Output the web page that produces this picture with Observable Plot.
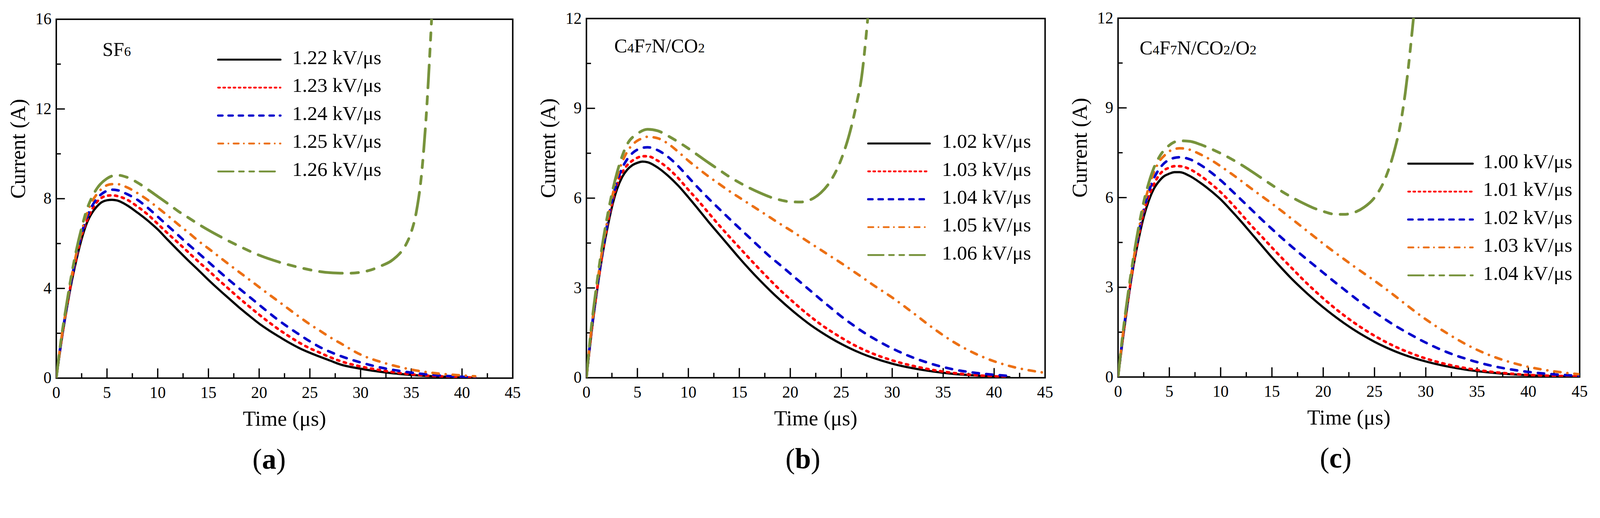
<!DOCTYPE html>
<html><head><meta charset="utf-8">
<script src="https://cdn.jsdelivr.net/npm/d3@7"></script>
<script src="https://cdn.jsdelivr.net/npm/@observablehq/plot@0.6"></script>
<style>
html,body{margin:0;padding:0;background:#fff;overflow:hidden;}
#wrap{position:relative;overflow:hidden;width:4364px;height:1325px;}
#row{display:flex;width:4364px;height:1325px;transform-origin:0 0;}
#row svg{overflow:visible;display:block;flex:none;}
</style></head><body><div id="wrap"><div id="row"></div></div>
<script>
// ---------- data ----------
const xTicks = [0,5,10,15,20,25,30,35,40,45];
const xMinor = [2.5,7.5,12.5,17.5,22.5,27.5,32.5,37.5,42.5];
const yTicksA = [0,4,8,12,16];
const yMinorA = [2,6,10,14];
const yTicksBC = [0,3,6,9,12];
const yMinorBC = [1.5,4.5,7.5,10.5];

const seriesColors = ["#000000","#ff0000","#0000cc","#ec7014","#77933c"];

// (a) SF6
const labelsA = ["1.22 kV/μs","1.23 kV/μs","1.24 kV/μs","1.25 kV/μs","1.26 kV/μs"];
const tA = [0,0.5,1,1.5,2,2.5,3,3.5,4,4.5,5,5.5,6,7,8,9,10,11,12,13,14,15,16,17,18,19,20,21,22,23,24,25,26,27,28,30,32,34,36,38,40,41.3];
const sf6_122 = [0,1.6,3.0,4.25,5.3,6.2,6.9,7.35,7.65,7.85,7.93,7.95,7.92,7.7,7.38,7.03,6.63,6.16,5.7,5.25,4.82,4.38,3.96,3.56,3.16,2.79,2.43,2.12,1.84,1.57,1.33,1.13,0.95,0.78,0.61,0.42,0.28,0.18,0.11,0.07,0.04,0.02];
const sf6_123 = [0,1.65,3.05,4.35,5.4,6.35,7.0,7.5,7.85,8.05,8.13,8.15,8.12,7.95,7.65,7.3,6.88,6.45,6.04,5.62,5.2,4.8,4.38,3.98,3.58,3.2,2.83,2.48,2.15,1.85,1.57,1.33,1.13,0.93,0.76,0.52,0.35,0.22,0.13,0.08,0.04,0.02];
const sf6_124 = [0,1.7,3.1,4.4,5.5,6.45,7.15,7.65,8.0,8.22,8.35,8.4,8.38,8.2,7.95,7.6,7.2,6.79,6.38,5.97,5.58,5.18,4.78,4.39,4.01,3.64,3.27,2.9,2.55,2.23,1.93,1.64,1.38,1.17,0.99,0.7,0.47,0.31,0.19,0.11,0.06,0.03];
const sf6_125 = [0,1.75,3.15,4.5,5.6,6.55,7.3,7.85,8.2,8.45,8.6,8.65,8.65,8.5,8.25,7.95,7.6,7.24,6.86,6.5,6.12,5.78,5.43,5.08,4.74,4.4,4.06,3.72,3.39,3.05,2.72,2.4,2.11,1.82,1.56,1.05,0.72,0.48,0.3,0.19,0.12,0.08];
const tA_g = [0,0.5,1,1.5,2,2.5,3,3.5,4,5,6,7,8,9,10,11,12,13,14,16,18,20,22,24,26,27,28,29,30,31,32,33,33.5,34,34.5,35,35.5,36,36.5,37];
const sf6_126 = [0,1.8,3.25,4.6,5.75,6.7,7.5,8.05,8.45,8.9,9.05,8.95,8.72,8.42,8.1,7.78,7.45,7.16,6.87,6.35,5.89,5.48,5.17,4.93,4.75,4.7,4.68,4.68,4.72,4.82,5.0,5.22,5.4,5.63,5.98,6.52,7.42,9.05,11.9,16];

// (b) C4F7N/CO2
const labelsB = ["1.02 kV/μs","1.03 kV/μs","1.04 kV/μs","1.05 kV/μs","1.06 kV/μs"];
const tB = [0,0.5,1,1.5,2,2.5,3,3.5,4,4.5,5,5.5,6,7,8,9,10,11,12,13,14,15,16,17,18,19,20,21,22,23,24,25,26,27,28,30,32,34,36,38,40,41.5];
const c4_102 = [0,1.5,2.8,3.95,4.9,5.7,6.3,6.7,6.95,7.1,7.18,7.22,7.2,7.02,6.75,6.42,6.03,5.62,5.2,4.8,4.4,4.0,3.62,3.26,2.92,2.6,2.3,2.02,1.76,1.53,1.32,1.13,0.96,0.81,0.68,0.47,0.32,0.21,0.13,0.08,0.04,0.02];
const c4_103 = [0,1.55,2.85,4.0,5.0,5.8,6.45,6.85,7.1,7.25,7.35,7.4,7.4,7.25,7.0,6.67,6.28,5.9,5.5,5.1,4.72,4.35,3.98,3.62,3.27,2.93,2.62,2.32,2.04,1.78,1.55,1.34,1.14,0.97,0.82,0.58,0.4,0.26,0.16,0.09,0.05,0.02];
const c4_104 = [0,1.6,2.9,4.05,5.05,5.9,6.55,7.0,7.3,7.5,7.62,7.68,7.7,7.6,7.38,7.07,6.7,6.33,5.98,5.65,5.32,5.0,4.68,4.36,4.05,3.77,3.48,3.19,2.9,2.61,2.33,2.05,1.8,1.56,1.35,0.98,0.68,0.45,0.28,0.17,0.1,0.06];
const tB_o = [0,0.5,1,1.5,2,2.5,3,3.5,4,4.5,5,5.5,6,7,8,9,10,11,12,13,14,15,16,17,18,19,20,21,22,23,24,25,26,27,28,30,32,34,36,38,40,42,44.7];
const c4_105 = [0,1.65,3.0,4.15,5.15,6.0,6.7,7.2,7.55,7.78,7.92,8.0,8.05,8.0,7.82,7.55,7.25,6.98,6.72,6.48,6.24,6.02,5.8,5.58,5.36,5.14,4.93,4.71,4.49,4.27,4.05,3.83,3.6,3.37,3.13,2.68,2.18,1.66,1.2,0.83,0.55,0.35,0.18];
const tB_g = [0,0.5,1,1.5,2,2.5,3,3.5,4,5,6,7,8,9,10,11,12,13,14,15,16,17,18,19,20,21,22,23,24,25,26,26.5,27,27.6];
const c4_106 = [0,1.75,3.1,4.3,5.3,6.15,6.85,7.4,7.8,8.15,8.3,8.25,8.08,7.88,7.66,7.42,7.18,6.95,6.72,6.52,6.34,6.18,6.04,5.94,5.88,5.87,5.95,6.18,6.6,7.3,8.4,9.15,10.05,12];

// (c) C4F7N/CO2/O2
const labelsC = ["1.00 kV/μs","1.01 kV/μs","1.02 kV/μs","1.03 kV/μs","1.04 kV/μs"];
const tC = [0,0.5,1,1.5,2,2.5,3,3.5,4,4.5,5,5.5,6,7,8,9,10,11,12,13,14,15,16,17,18,19,20,21,22,23,24,25,26,27,28,30,32,34,36,38,40,42.5,45];
const mix_100 = [0,1.35,2.6,3.7,4.6,5.35,5.9,6.3,6.55,6.72,6.8,6.85,6.85,6.72,6.5,6.24,5.94,5.58,5.2,4.8,4.4,4.0,3.62,3.26,2.93,2.62,2.33,2.06,1.81,1.58,1.37,1.18,1.01,0.86,0.73,0.52,0.36,0.24,0.16,0.1,0.06,0.03,0.01];
const mix_101 = [0,1.4,2.65,3.75,4.7,5.5,6.05,6.45,6.75,6.92,7.0,7.05,7.05,6.95,6.74,6.48,6.18,5.83,5.45,5.06,4.7,4.33,3.97,3.62,3.27,2.94,2.63,2.34,2.07,1.82,1.59,1.38,1.19,1.02,0.87,0.62,0.43,0.29,0.19,0.12,0.07,0.04,0.02];
const mix_102 = [0,1.45,2.7,3.85,4.8,5.6,6.2,6.65,6.95,7.15,7.27,7.33,7.35,7.28,7.1,6.86,6.58,6.26,5.93,5.6,5.27,4.95,4.64,4.34,4.05,3.77,3.49,3.21,2.94,2.67,2.41,2.17,1.94,1.72,1.52,1.15,0.84,0.6,0.41,0.27,0.17,0.09,0.04];
const mix_103 = [0,1.5,2.75,3.9,4.9,5.7,6.35,6.85,7.2,7.4,7.55,7.62,7.65,7.6,7.45,7.27,7.05,6.81,6.56,6.3,6.05,5.8,5.54,5.27,5.0,4.73,4.46,4.2,3.95,3.7,3.46,3.22,2.97,2.71,2.44,1.93,1.48,1.08,0.76,0.52,0.34,0.19,0.09];
const tC_g = [0,0.5,1,1.5,2,2.5,3,3.5,4,5,6,7,8,9,10,11,12,13,14,15,16,17,18,19,20,21,22,23,24,25,26,27,27.5,28,28.8];
const mix_104 = [0,1.55,2.85,4.0,5.0,5.85,6.5,7.0,7.35,7.75,7.9,7.88,7.78,7.64,7.48,7.3,7.1,6.88,6.65,6.42,6.2,6.0,5.82,5.66,5.54,5.45,5.44,5.5,5.68,6.0,6.6,7.65,8.4,9.5,12];

// ---------- styles ----------
const FONT = "'Liberation Serif', 'DejaVu Serif', serif";
const curveStyles = [
  {strokeWidth: 6, dash: null},
  {strokeWidth: 7, dash: "6,13"},
  {strokeWidth: 7, dash: "17,20"},
  {strokeWidth: 7, dash: "17,19,0.1,19"},
  {strokeWidth: 7.5, dash: "62,24,20,24,20,24"}
];
const legendStyles = [
  {strokeWidth: 5.5, dash: null},
  {strokeWidth: 5, dash: "5,9"},
  {strokeWidth: 6, dash: "12,16"},
  {strokeWidth: 5, dash: "14,14,0.1,14"},
  {strokeWidth: 5, dash: "42,15,13,15,13,15"}
];

const panels = [
  {width: 1455, ml: 153, mr: 57, mt: 52, mb: 295, ymax: 16, yT: yTicksA, yM: yMinorA,
   gas: "SF6", gasDx: 126, gasDy: 100, cap: "a", capDx: -42,
   series: [[tA, sf6_122],[tA, sf6_123],[tA, sf6_124],[tA, sf6_125],[tA_g, sf6_126]],
   labels: labelsA, legX1: 595, legX2: 765, legTx: 797, legY0: 162.5, legDy: 76.2},
  {width: 1455, ml: 144, mr: 60, mt: 50, mb: 296, ymax: 12, yT: yTicksBC, yM: yMinorBC,
   gas: "C4F7N/CO2", gasDx: 76, gasDy: 92, cap: "b", capDx: -35,
   series: [[tB, c4_102],[tB, c4_103],[tB, c4_104],[tB_o, c4_105],[tB_g, c4_106]],
   labels: labelsB, legX1: 913, legX2: 1081, legTx: 1114, legY0: 391, legDy: 76},
  {width: 1454, ml: 139, mr: 56, mt: 49, mb: 298, ymax: 12, yT: yTicksBC, yM: yMinorBC,
   gas: "C4F7N/CO2/O2", gasDx: 59, gasDy: 99, cap: "c", capDx: -36,
   series: [[tC, mix_100],[tC, mix_101],[tC, mix_102],[tC, mix_103],[tC_g, mix_104]],
   labels: labelsC, legX1: 931, legX2: 1107, legTx: 1135, legY0: 446, legDy: 76.1}
];

function buildPanel(p) {
  const H = 1325;
  const plotH = H - p.mt - p.mb;
  const plotW = p.width - p.ml - p.mr;
  const xmax = 45, ymax = p.ymax;
  const yLen = (px) => px / plotH * ymax;
  const xLen = (px) => px / plotW * xmax;
  const marks = [];
  // inward ticks
  marks.push(Plot.ruleX(xTicks.slice(1, -1), {x: d => d, y1: 0, y2: yLen(26), stroke: "#000", strokeWidth: 3.5}));
  marks.push(Plot.ruleX(xMinor, {x: d => d, y1: 0, y2: yLen(13), stroke: "#000", strokeWidth: 3.5}));
  marks.push(Plot.ruleY(p.yT.slice(1, -1), {y: d => d, x1: 0, x2: xLen(24), stroke: "#000", strokeWidth: 3.5}));
  marks.push(Plot.ruleY(p.yM, {y: d => d, x1: 0, x2: xLen(13), stroke: "#000", strokeWidth: 3.5}));
  marks.push(Plot.frame({stroke: "#000", strokeWidth: 4}));
  // curves
  p.series.forEach(([ts, vs], i) => {
    const data = ts.map((t, j) => ({t, v: vs[j]}));
    const st = curveStyles[i];
    const opts = {x: "t", y: "v", stroke: seriesColors[i], strokeWidth: st.strokeWidth,
      curve: "monotone-x", strokeLinecap: "round", strokeLinejoin: "round", clip: true};
    if (st.dash) opts.strokeDasharray = st.dash;
    marks.push(Plot.line(data, opts));
  });
  // axes
  marks.push(Plot.axisX({ticks: xTicks, tickSize: 0, tickPadding: 23, fontSize: 44, label: null, tickFormat: d => String(d)}));
  marks.push(Plot.axisY({ticks: p.yT, tickSize: 0, tickPadding: 13, fontSize: 44, label: null, tickFormat: d => String(d)}));
  // axis titles
  marks.push(Plot.text(["Time (μs)"], {frameAnchor: "bottom", dy: 130, lineAnchor: "bottom", fontSize: 58, fill: "#000"}));
  marks.push(Plot.text(["Current (A)"], {frameAnchor: "left", dx: -104, rotate: -90, fontSize: 58, fill: "#000"}));
  // gas label
  marks.push(Plot.text([p.gas], {frameAnchor: "top-left", dx: p.gasDx, dy: p.gasDy, textAnchor: "start", lineAnchor: "bottom", fontSize: 53, fill: "#000"}));
  // caption
  marks.push(Plot.text([p.cap], {frameAnchor: "bottom", dx: p.capDx, dy: 247, lineAnchor: "bottom", fontSize: 78, fill: "#000"}));

  const svg = Plot.plot({
    width: p.width, height: H,
    marginLeft: p.ml, marginRight: p.mr, marginTop: p.mt, marginBottom: p.mb,
    style: {fontFamily: FONT, background: "#fff", color: "#000"},
    x: {domain: [0, xmax], axis: null},
    y: {domain: [0, ymax], axis: null},
    marks
  });

  svg.querySelectorAll("text").forEach(el => {
    const s = el.textContent;
    if (s === p.gas) {
      el.textContent = "";
      const sel = d3.select(el);
      for (const ch of s) {
        const ts = sel.append("tspan").text(ch);
        if (/[0-9]/.test(ch)) ts.attr("font-size", 37);
      }
    } else if (s === p.cap) {
      el.textContent = "";
      const sel = d3.select(el);
      sel.append("tspan").text("(");
      sel.append("tspan").attr("font-weight", "bold").text(s);
      sel.append("tspan").text(")");
    }
  });

  // legend
  const g = d3.select(svg).append("g").attr("aria-label", "legend").attr("text-anchor", "start");
  p.labels.forEach((lab, i) => {
    const y = p.legY0 + i * p.legDy;
    const st = legendStyles[i];
    const ln = g.append("line").attr("x1", p.legX1).attr("x2", p.legX2).attr("y1", y).attr("y2", y)
      .attr("stroke", seriesColors[i]).attr("stroke-width", st.strokeWidth).attr("stroke-linecap", "round");
    if (st.dash) ln.attr("stroke-dasharray", st.dash);
    g.append("text").attr("x", p.legTx).attr("y", y + 12).attr("font-size", 55)
      .attr("text-anchor", "start").attr("font-family", FONT).attr("fill", "#000").text(lab);
  });
  return svg;
}

const wrap = document.getElementById("wrap");
const row = document.getElementById("row");
panels.forEach(p => row.appendChild(buildPanel(p)));

// fit the 4364x1325 layout into the actual viewport
function fit() {
  const vw = document.documentElement.clientWidth || window.innerWidth;
  const vh = window.innerHeight || 1325;
  const s = Math.min(vw / 4364, vh / 1325);
  const scaled = Math.abs(s - 1) > 0.002;
  row.style.transform = scaled ? `scale(${s})` : "none";
  const w = scaled ? 4364 * s : 4364, h = scaled ? 1325 * s : 1325;
  wrap.style.width = w + "px";
  wrap.style.height = h + "px";
  document.body.style.height = h + "px";
  document.documentElement.style.height = h + "px";
}
fit();
window.addEventListener("resize", fit);
</script>
</body></html>
